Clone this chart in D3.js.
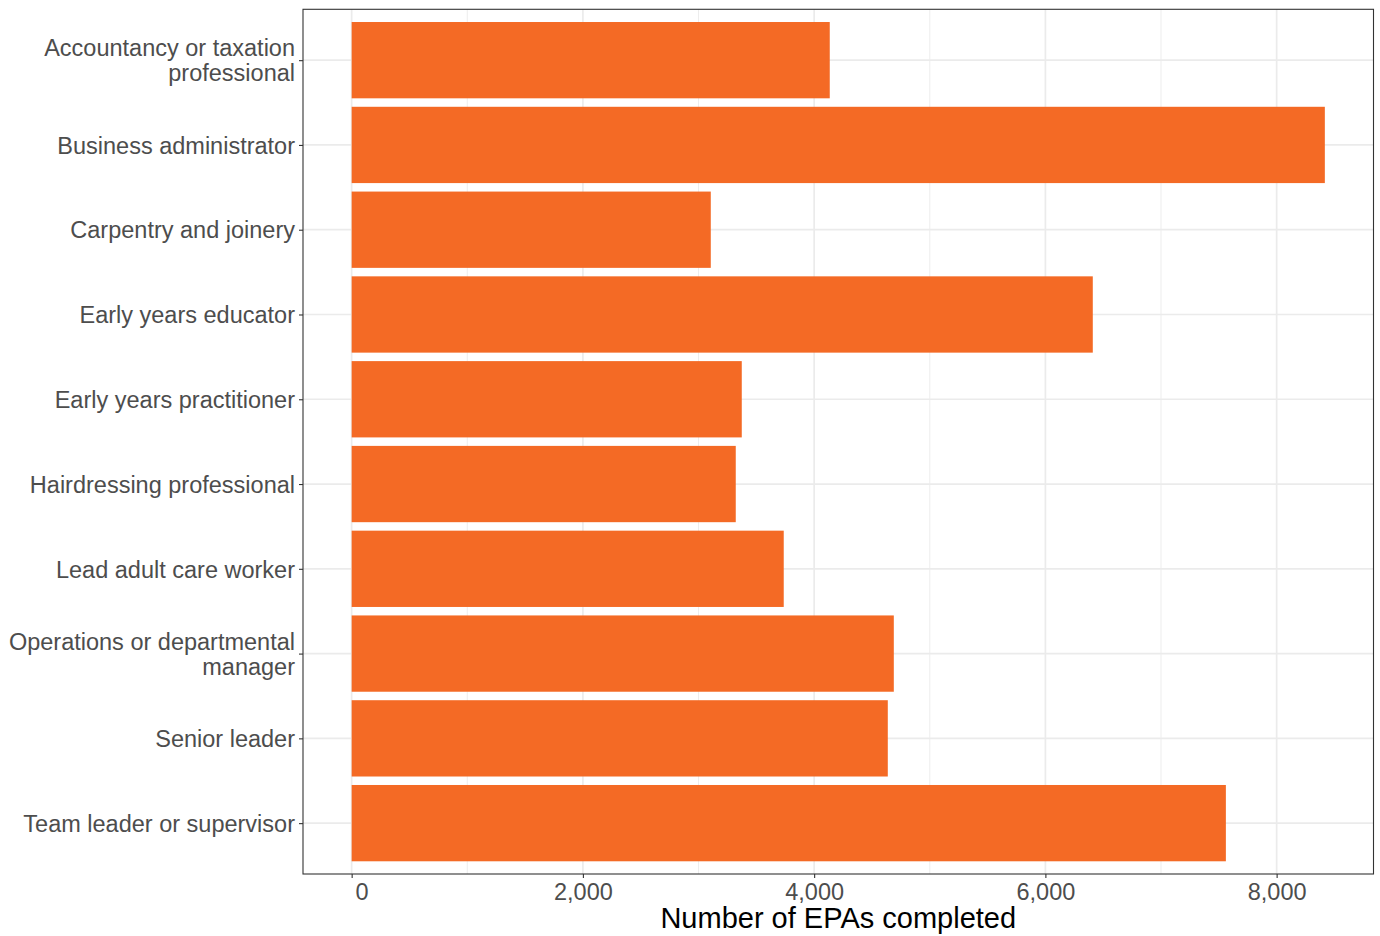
<!DOCTYPE html>
<html><head><meta charset="utf-8">
<script src="https://cdn.jsdelivr.net/npm/d3@7"></script>
<style>body{margin:0;background:#fff}svg{display:block}text{font-family:"Liberation Sans",Arial,sans-serif}</style>
</head><body><svg id="c" width="1380" height="936"></svg>
<script>
const categories = [
  ["Accountancy or taxation","professional"],
  ["Business administrator"],
  ["Carpentry and joinery"],
  ["Early years educator"],
  ["Early years practitioner"],
  ["Hairdressing professional"],
  ["Lead adult care worker"],
  ["Operations or departmental","manager"],
  ["Senior leader"],
  ["Team leader or supervisor"]
];
const values = [4135, 8417, 3106, 6410, 3374, 3322, 3737, 4689, 4637, 7561];
const xTicks = [0, 2000, 4000, 6000, 8000];
const xTickLabels = ["0", "2,000", "4,000", "6,000", "8,000"];
const xMinor = [1000, 3000, 5000, 7000];
const xTitle = "Number of EPAs completed";

const svg = d3.select("#c");
const L = 303, R = 1373.5, T = 9.3, B = 874;
const maxV = d3.max(values), pad = maxV * 0.05;
const x = d3.scaleLinear().domain([-pad, maxV + pad]).range([L, R]);
const keys = categories.map((d, i) => i);
const unit = (B - T) / (categories.length - 1 + 1.2);
const yc = i => T + unit * (0.6 + i);
const y = d3.scaleBand().domain(keys).range([T + unit * 0.1, B - unit * 0.1]).paddingInner(0.1).paddingOuter(0.05);

const grid = svg.append("g");
grid.selectAll(".mn").data(xMinor).join("line")
  .attr("x1", d => x(d)).attr("x2", d => x(d)).attr("y1", T).attr("y2", B)
  .attr("stroke", "#EBEBEB").attr("stroke-width", 0.9);
grid.selectAll(".mj").data(xTicks).join("line")
  .attr("x1", d => x(d)).attr("x2", d => x(d)).attr("y1", T).attr("y2", B)
  .attr("stroke", "#EBEBEB").attr("stroke-width", 1.7);
grid.selectAll(".hy").data(keys).join("line")
  .attr("x1", L).attr("x2", R).attr("y1", d => yc(d)).attr("y2", d => yc(d))
  .attr("stroke", "#EBEBEB").attr("stroke-width", 1.7);

svg.append("g").selectAll("rect").data(values).join("rect")
  .attr("x", x(0)).attr("width", d => x(d) - x(0))
  .attr("y", (d, i) => y(i)).attr("height", y.bandwidth())
  .attr("fill", "#F46A25");

svg.append("rect").attr("x", L).attr("y", T).attr("width", R - L).attr("height", B - T)
  .attr("fill", "none").attr("stroke", "#333333").attr("stroke-width", 1.1);

// x axis
const xa = svg.append("g").attr("transform", `translate(0,${B})`)
  .call(d3.axisBottom(x).tickValues(xTicks).tickSize(4).tickPadding(5)
    .tickFormat((d, i) => xTickLabels[i]));
xa.select(".domain").remove();
xa.selectAll("line").attr("stroke", "#333333").attr("stroke-width", 1.1);
xa.selectAll("text").attr("fill", "#4D4D4D").attr("font-size", 23.5)
  .attr("font-family", "Liberation Sans, Arial, sans-serif")
  .attr("dx", (d, i) => i === 0 ? 10 : 0);

// y axis
const ya = svg.append("g").attr("transform", `translate(${L},0)`)
  .call(d3.axisLeft(d3.scalePoint().domain(keys).range([yc(0), yc(categories.length - 1)]))
    .tickSize(4).tickPadding(4).tickFormat(""));
ya.select(".domain").remove();
ya.selectAll("line").attr("stroke", "#333333").attr("stroke-width", 1.1);
ya.selectAll(".tick").each(function(d) {
  const lines = categories[d];
  const t = d3.select(this).append("text").attr("fill", "#4D4D4D").attr("font-size", 23.5)
    .attr("text-anchor", "end").attr("x", -8);
  const lh = 25;
  lines.forEach((s, j) => {
    t.append("tspan").attr("x", -8)
      .attr("y", (j - (lines.length - 1) / 2) * lh).attr("dy", "0.35em").text(s);
  });
});

svg.append("text").attr("x", (L + R) / 2).attr("y", 928).attr("text-anchor", "middle")
  .attr("font-size", 29).attr("fill", "#000").text(xTitle);
</script></body></html>
